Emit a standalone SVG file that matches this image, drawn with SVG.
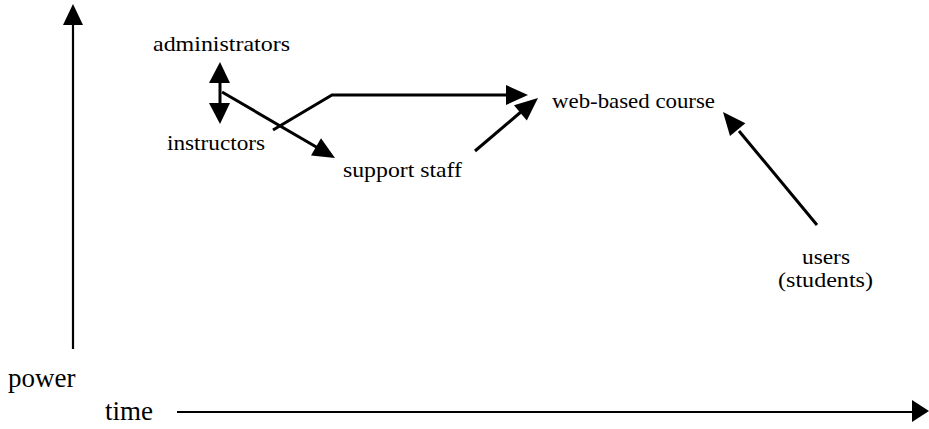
<svg xmlns="http://www.w3.org/2000/svg" width="929" height="429" viewBox="0 0 929 429">
<style>
.lbl{font-family:"Liberation Serif","Times New Roman",serif;font-size:21px;fill:#000}
.ax{font-family:"Liberation Serif","Times New Roman",serif;font-size:27px;fill:#000}
.ln{stroke:#000;stroke-width:3;fill:none}
.axl{stroke:#000;stroke-width:2.2;fill:none}
.hd{fill:#000;stroke:none}
</style>
<rect width="929" height="429" fill="#fff"/>
<g id="axes">
<line class="axl" x1="73" y1="349" x2="73" y2="22"/>
<polygon class="hd" points="73,4 63,25 83,25"/>
<line class="axl" x1="177" y1="412" x2="914" y2="412"/>
<polygon class="hd" points="929,411 912,400 912,422"/>
</g>
<g id="power"><text class="ax" x="8" y="387">power</text></g>
<g id="time"><text class="ax" x="105" y="420">time</text></g>
<g id="administrators"><text class="lbl" x="153" y="51" textLength="137" lengthAdjust="spacingAndGlyphs">administrators</text></g>
<g id="instructors"><text class="lbl" x="167" y="150" textLength="98" lengthAdjust="spacingAndGlyphs">instructors</text></g>
<g id="support-staff"><text class="lbl" x="343" y="177" textLength="119" lengthAdjust="spacingAndGlyphs">support staff</text></g>
<g id="web-based-course"><text class="lbl" x="552" y="108" textLength="163" lengthAdjust="spacingAndGlyphs">web-based course</text></g>
<g id="users"><text class="lbl" x="802" y="264" textLength="48" lengthAdjust="spacingAndGlyphs">users</text><text class="lbl" x="778" y="287" textLength="95" lengthAdjust="spacingAndGlyphs">(students)</text></g>
<g id="connectors">
<line class="ln" x1="220" y1="80" x2="220" y2="106"/>
<polygon class="hd" points="220,62 209,83 230,83"/>
<polygon class="hd" points="220,124 209,103 230,103"/>
<line class="ln" x1="222" y1="92" x2="318" y2="148"/>
<polygon class="hd" points="335,158 311,155.5 321,138.3"/>
<polyline class="ln" points="273,130 332,95 508,95"/>
<polygon class="hd" points="528,95 506,85 506,105"/>
<line class="ln" x1="475" y1="151" x2="522" y2="111"/>
<polygon class="hd" points="538,98 526.8,120.5 514,105.2"/>
<line class="ln" x1="817" y1="225" x2="739" y2="131"/>
<polygon class="hd" points="723,112 745.4,123.3 730,136.1"/>
</g>
</svg>
